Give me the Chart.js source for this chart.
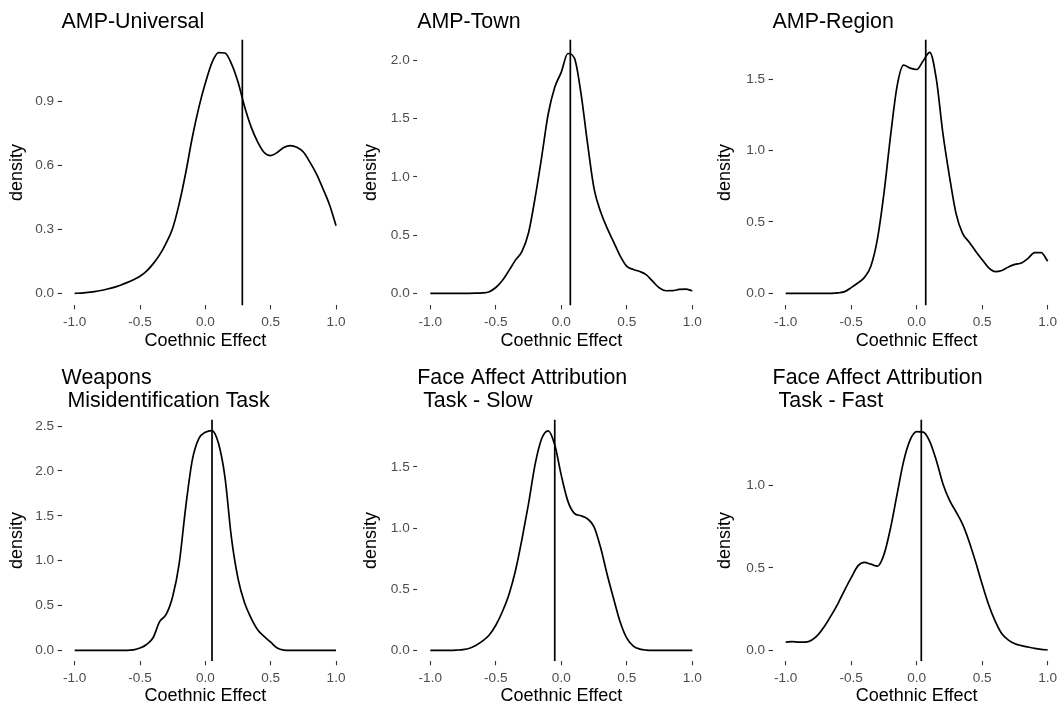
<!DOCTYPE html>
<html>
<head>
<meta charset="utf-8">
<script src="https://cdn.jsdelivr.net/npm/chart.js@4.4.1/dist/chart.umd.min.js"></script>
<style>
  html, body { margin: 0; padding: 0; background: #fff; }
  body { width: 1062px; height: 707px; position: relative; overflow: hidden; }
  canvas { position: absolute; }
</style>
</head>
<body>
<canvas id="p1" width="354" height="354" style="left:0;top:0"></canvas>
<canvas id="p2" width="354" height="354" style="left:354px;top:0"></canvas>
<canvas id="p3" width="354" height="354" style="left:708px;top:0"></canvas>
<canvas id="p4" width="354" height="353" style="left:0;top:354px"></canvas>
<canvas id="p5" width="354" height="353" style="left:354px;top:354px"></canvas>
<canvas id="p6" width="354" height="353" style="left:708px;top:354px"></canvas>
<script>
// Grille des effets coethniques (axe x)
const coethnic = [-1.00, -0.95, -0.90, -0.85, -0.80, -0.75, -0.70, -0.65, -0.60, -0.55,
                  -0.50, -0.45, -0.40, -0.35, -0.30, -0.25, -0.20, -0.15, -0.10, -0.05,
                   0.00,  0.05,  0.10,  0.15,  0.20,  0.25,  0.30,  0.35,  0.40,  0.45,
                   0.50,  0.55,  0.60,  0.65,  0.70,  0.75,  0.80,  0.85,  0.90,  0.95, 1.00];

// Densités
const ampUniversal = [0.000, 0.001, 0.004, 0.008, 0.013, 0.020, 0.028, 0.038, 0.050, 0.064,
                      0.080, 0.104, 0.138, 0.180, 0.235, 0.305, 0.420, 0.565, 0.730, 0.870,
                      0.985, 1.080, 1.128, 1.126, 1.075, 0.990, 0.875, 0.780, 0.710, 0.660,
                      0.645, 0.660, 0.683, 0.692, 0.684, 0.662, 0.615, 0.560, 0.490, 0.415, 0.317];
const ampTown = [0, 0, 0, 0, 0, 0, 0, 0.001, 0.003, 0.014,
                 0.050, 0.110, 0.195, 0.285, 0.360, 0.520, 0.820, 1.170, 1.540, 1.770,
                 1.900, 2.060, 2.020, 1.720, 1.290, 0.900, 0.700, 0.560, 0.440, 0.320,
                 0.232, 0.205, 0.187, 0.158, 0.100, 0.045, 0.022, 0.023, 0.033, 0.036, 0.022];
const ampRegion = [0, 0, 0, 0, 0, 0, 0, 0, 0.003, 0.012,
                   0.040, 0.072, 0.110, 0.190, 0.380, 0.700, 1.100, 1.450, 1.598, 1.578,
                   1.568, 1.630, 1.688, 1.500, 1.120, 0.820, 0.560, 0.420, 0.360, 0.295,
                   0.235, 0.178, 0.152, 0.160, 0.185, 0.203, 0.212, 0.245, 0.285, 0.285, 0.225];
const weapons = [0, 0, 0, 0, 0, 0, 0, 0, 0, 0.005,
                 0.025, 0.065, 0.140, 0.320, 0.400, 0.600, 0.970, 1.600, 2.120, 2.360,
                 2.430, 2.450, 2.310, 1.930, 1.250, 0.800, 0.530, 0.360, 0.230, 0.155,
                 0.090, 0.025, 0.003, 0, 0, 0, 0, 0, 0, 0, 0];
const faceSlow = [0, 0, 0, 0, 0.002, 0.006, 0.017, 0.042, 0.077, 0.125,
                  0.205, 0.315, 0.455, 0.650, 0.910, 1.200, 1.520, 1.730, 1.795, 1.680,
                  1.430, 1.220, 1.120, 1.100, 1.075, 1.010, 0.840, 0.620, 0.420, 0.230,
                  0.100, 0.035, 0.010, 0.002, 0, 0, 0, 0, 0, 0, 0];
const faceFast = [0.049, 0.053, 0.050, 0.050, 0.063, 0.097, 0.150, 0.215, 0.285, 0.365,
                  0.440, 0.510, 0.533, 0.522, 0.510, 0.580, 0.740, 0.945, 1.145, 1.275,
                  1.325, 1.322, 1.265, 1.150, 1.010, 0.910, 0.840, 0.765, 0.660, 0.535,
                  0.400, 0.275, 0.175, 0.100, 0.062, 0.040, 0.028, 0.020, 0.012, 0.006, 0.002];

// Lignes verticales (effet moyen) et sommets des densités
const means = [0.283, 0.069, 0.069, 0.051, -0.050, 0.035];
const peaks = [1.133, 2.077, 1.694, 2.450, 1.797, 1.332];

// Graduations
const xTicks = [-1.0, -0.5, 0.0, 0.5, 1.0];
const yTicksUniversal = [0, 0.3, 0.6, 0.9];
const yTicksTown = [0, 0.5, 1.0, 1.5, 2.0];
const yTicksRegion = [0, 0.5, 1.0, 1.5];
const yTicksWeapons = [0, 0.5, 1.0, 1.5, 2.0, 2.5];
const yTicksSlow = [0, 0.5, 1.0, 1.5];
const yTicksFast = [0, 0.5, 1.0];

const FONT = '"Liberation Sans", Arial, Helvetica, sans-serif';

// Mise en page de chaque panneau
const topRow = {titleTop: 10.7, titleBottom: 5.4, xAxisH: 48.6, xTitleBottom: 2.5};
const bottomRow = {titleTop: 12.5, titleBottom: 6.4, xAxisH: 45.7, xTitleBottom: 0};
const columns = [{yAxisW: 61.6, right: 4.9}, {yAxisW: 63.2, right: 2.6}, {yAxisW: 64.6, right: 1.2}];

function drawPanel(canvasId, title, dens, mean, peak, yTicks, row, col) {
    const lo = -0.05 * peak;
    const hi = 1.05 * peak;
    new Chart(document.getElementById(canvasId), {
        type: 'line',
        data: {
            datasets: [{
                data: coethnic.map((x, i) => ({x: x, y: dens[i]})),
                borderColor: '#000',
                borderWidth: 1.7,
                pointRadius: 0,
                cubicInterpolationMode: 'monotone',
                fill: false
            }, {
                data: [{x: mean, y: lo}, {x: mean, y: hi}],
                borderColor: '#000',
                borderWidth: 1.7,
                pointRadius: 0,
                fill: false
            }]
        },
        options: {
            responsive: false,
            animation: false,
            events: [],
            layout: {padding: {left: 0, right: col.right, top: 0, bottom: 0}},
            plugins: {
                legend: {display: false},
                tooltip: {enabled: false},
                title: {
                    display: true,
                    text: title,
                    align: 'start',
                    fullSize: false,
                    color: '#000',
                    font: {family: FONT, size: 21.4, weight: 'normal', lineHeight: 1.09},
                    padding: {top: row.titleTop, bottom: row.titleBottom}
                }
            },
            scales: {
                x: {
                    type: 'linear',
                    min: -1.1,
                    max: 1.1,
                    afterBuildTicks: s => { s.ticks = xTicks.map(v => ({value: v})); },
                    afterFit: s => { s.height = row.xAxisH; s.paddingLeft = 0; s.paddingRight = 0; },
                    ticks: {
                        callback: v => v.toFixed(1),
                        maxRotation: 0,
                        autoSkip: false,
                        padding: 5,
                        color: '#4d4d4d',
                        font: {family: FONT, size: 13.6}
                    },
                    grid: {drawOnChartArea: false, tickLength: 4, tickColor: '#333', tickWidth: 1.1},
                    border: {display: false},
                    title: {
                        display: true,
                        text: 'Coethnic Effect',
                        color: '#000',
                        font: {family: FONT, size: 18},
                        padding: {top: 0, bottom: row.xTitleBottom}
                    }
                },
                y: {
                    type: 'linear',
                    min: lo,
                    max: hi,
                    afterBuildTicks: s => { s.ticks = yTicks.map(v => ({value: v})); },
                    afterFit: s => { s.width = col.yAxisW; s.paddingTop = 0; s.paddingBottom = 0; },
                    ticks: {
                        callback: v => v.toFixed(1),
                        padding: 3.5,
                        color: '#4d4d4d',
                        font: {family: FONT, size: 13.6}
                    },
                    grid: {drawOnChartArea: false, tickLength: 4, tickColor: '#333', tickWidth: 1.1},
                    border: {display: false},
                    title: {
                        display: true,
                        text: 'density',
                        color: '#000',
                        font: {family: FONT, size: 18},
                        padding: {top: 6.5, bottom: 0}
                    }
                }
            }
        }
    });
}

drawPanel('p1', 'AMP-Universal', ampUniversal, means[0], peaks[0], yTicksUniversal, topRow, columns[0]);
drawPanel('p2', 'AMP-Town', ampTown, means[1], peaks[1], yTicksTown, topRow, columns[1]);
drawPanel('p3', 'AMP-Region', ampRegion, means[2], peaks[2], yTicksRegion, topRow, columns[2]);
drawPanel('p4', ['Weapons', ' Misidentification Task'], weapons, means[3], peaks[3], yTicksWeapons, bottomRow, columns[0]);
drawPanel('p5', ['Face Affect Attribution', ' Task - Slow'], faceSlow, means[4], peaks[4], yTicksSlow, bottomRow, columns[1]);
drawPanel('p6', ['Face Affect Attribution', ' Task - Fast'], faceFast, means[5], peaks[5], yTicksFast, bottomRow, columns[2]);
</script>
</body>
</html>
